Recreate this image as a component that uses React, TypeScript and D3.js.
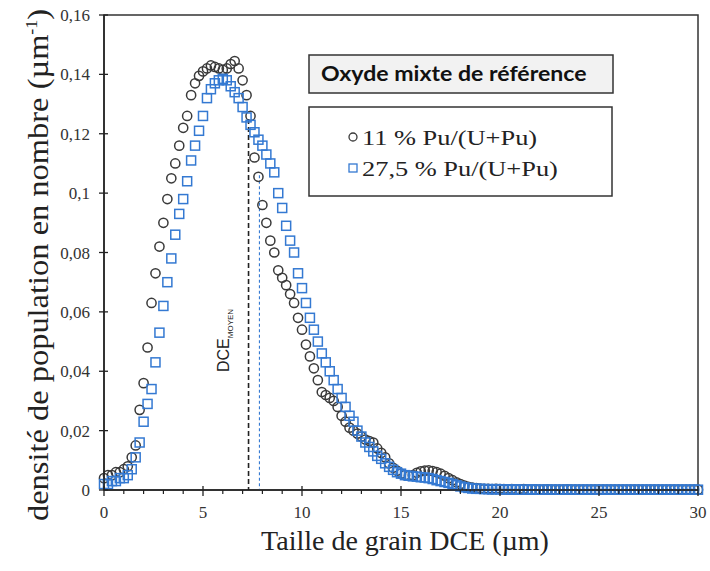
import React from 'react';
import * as d3 from 'd3';

// Grain size (DCE, µm) sampling
const grainSize = [
  0, 0.2, 0.4, 0.6, 0.8, 1, 1.2, 1.4, 1.6, 1.8, 2, 2.2, 2.4, 2.6, 2.8, 3, 3.2, 3.4, 3.6, 3.8,
  4, 4.2, 4.4, 4.6, 4.8, 5, 5.2, 5.4, 5.6, 5.8, 6, 6.2, 6.4, 6.6, 6.8, 7, 7.2, 7.4, 7.6, 7.8,
  8, 8.2, 8.4, 8.6, 8.8, 9, 9.2, 9.4, 9.6, 9.8, 10, 10.2, 10.4, 10.6, 10.8, 11, 11.2, 11.4, 11.6, 11.8,
  12, 12.2, 12.4, 12.6, 12.8, 13, 13.2, 13.4, 13.6, 13.8, 14, 14.2, 14.4, 14.6, 14.8, 15, 15.2, 15.4, 15.6, 15.8,
  16, 16.2, 16.4, 16.6, 16.8, 17, 17.2, 17.4, 17.6, 17.8, 18, 18.2, 18.4, 18.6, 18.8, 19, 19.2, 19.4, 19.6, 19.8,
  20, 20.2, 20.4, 20.6, 20.8, 21, 21.2, 21.4, 21.6, 21.8, 22, 22.2, 22.4, 22.6, 22.8, 23, 23.2, 23.4, 23.6, 23.8,
  24, 24.2, 24.4, 24.6, 24.8, 25, 25.2, 25.4, 25.6, 25.8, 26, 26.2, 26.4, 26.6, 26.8, 27, 27.2, 27.4, 27.6, 27.8,
  28, 28.2, 28.4, 28.6, 28.8, 29, 29.2, 29.4, 29.6, 29.8, 30,
];

// 11 % Pu/(U+Pu)  (circles)
const pu11 = [
  0.004, 0.005, 0.005, 0.006, 0.006, 0.007, 0.008, 0.011, 0.015, 0.027, 0.036, 0.048, 0.063, 0.073, 0.082, 0.090, 0.098, 0.105, 0.110, 0.116,
  0.122, 0.126, 0.133, 0.137, 0.1395, 0.141, 0.142, 0.143, 0.1425, 0.142, 0.1415, 0.142, 0.1435, 0.1445, 0.142, 0.138, 0.133, 0.126, 0.112, 0.1055,
  0.096, 0.090, 0.084, 0.080, 0.074, 0.0715, 0.069, 0.066, 0.063, 0.058, 0.054, 0.049, 0.045, 0.041, 0.037, 0.033, 0.032, 0.031, 0.030, 0.028,
  0.025, 0.023, 0.021, 0.020, 0.019, 0.018, 0.017, 0.0165, 0.016, 0.014, 0.0125, 0.011, 0.009, 0.0075, 0.0065, 0.0055, 0.005, 0.0048, 0.005, 0.0058,
  0.0063, 0.0065, 0.0066, 0.0064, 0.006, 0.0055, 0.0048, 0.004, 0.0033, 0.0026, 0.002, 0.0015, 0.0011, 0.0008, 0.0006, 0.0005, 0.0004, 0.0004, 0.0003, 0.0004,
  0.0003, 0.0003, 0.0002, 0.0003, 0.0002, 0.0002, 0.0003, 0.0002, 0.0001, 0.0002, 0.0001, 0.0001, 0.0002, 0.0001, 0.0001, 0.0001, 0.0001, 0.0002, 0.0001, 0.0001,
  0.0001, 0.0001, 0.0001, 0.0001, 0.0001, 0.0001, 0.0001, 0.0001, 0.0001, 0.0001, 0.0001, 0.0001, 0.0001, 0.0001, 0.0001, 0.0001, 0.0001, 0.0001, 0.0001, 0.0001,
  0.0001, 0.0001, 0.0001, 0.0001, 0.0001, 0.0001, 0.0001, 0.0001, 0.0001, 0.0001, 0.0001,
];

// 27,5 % Pu/(U+Pu)  (squares)
const pu275 = [
  0.002, 0.002, 0.003, 0.003, 0.004, 0.004, 0.005, 0.007, 0.011, 0.016, 0.023, 0.029, 0.034, 0.043, 0.053, 0.062, 0.070, 0.078, 0.086, 0.093,
  0.098, 0.104, 0.111, 0.116, 0.121, 0.126, 0.132, 0.135, 0.137, 0.138, 0.1385, 0.138, 0.136, 0.134, 0.132, 0.129, 0.1255, 0.123, 0.1205, 0.118,
  0.116, 0.113, 0.110, 0.107, 0.100, 0.095, 0.089, 0.084, 0.080, 0.073, 0.068, 0.063, 0.058, 0.054, 0.050, 0.046, 0.043, 0.040, 0.037, 0.034,
  0.031, 0.028, 0.025, 0.023, 0.020, 0.018, 0.016, 0.0145, 0.013, 0.0115, 0.0105, 0.009, 0.0078, 0.0068, 0.006, 0.0055, 0.005, 0.0048, 0.0046, 0.0045,
  0.0043, 0.0042, 0.004, 0.0037, 0.0033, 0.003, 0.0027, 0.0024, 0.002, 0.0016, 0.0012, 0.0009, 0.0007, 0.0005, 0.0004, 0.0004, 0.0003, 0.0003, 0.0002, 0.0003,
  0.0002, 0.0002, 0.0002, 0.0001, 0.0002, 0.0001, 0.0001, 0.0001, 0.0002, 0.0001, 0.0001, 0.0001, 0.0001, 0.0001, 0.0001, 0.0001, 0.0001, 0.0001, 0.0001, 0.0001,
  0.0001, 0.0001, 0.0001, 0.0001, 0.0001, 0.0001, 0.0001, 0.0001, 0.0001, 0.0001, 0.0001, 0.0001, 0.0001, 0.0001, 0.0001, 0.0001, 0.0001, 0.0001, 0.0001, 0.0001,
  0.0001, 0.0001, 0.0001, 0.0001, 0.0001, 0.0001, 0.0001, 0.0001, 0.0001, 0.0001, 0.0001,
];

const xTicks = [0, 5, 10, 15, 20, 25, 30];
const xMinorTicks = [1, 2, 3, 4, 6, 7, 8, 9, 11, 12, 13, 14, 16, 17, 18, 19, 21, 22, 23, 24, 26, 27, 28, 29];
const yTicks = [0, 0.02, 0.04, 0.06, 0.08, 0.1, 0.12, 0.14, 0.16];
const yTickLabels = ['0', '0,02', '0,04', '0,06', '0,08', '0,1', '0,12', '0,14', '0,16'];

const seriesNames = ['11 % Pu/(U+Pu)', '27,5 % Pu/(U+Pu)'];
const legendTitle = 'Oxyde mixte de référence';
const dceMean = [7.3, 7.85];
const dceTop = [0.125, 0.106];

const COL_CIRCLE = '#3a3a3a';
const COL_SQUARE = '#3479d2';

export default function App() {
  const W = 710;
  const H = 571;
  const x = d3.scaleLinear().domain([0, 30]).range([104, 698]);
  const y = d3.scaleLinear().domain([0, 0.16]).range([490, 15]);
  const serif = "'Liberation Serif', 'Times New Roman', serif";
  const sans = "'Liberation Sans', Arial, sans-serif";
  const sq = 9;

  return (
    <svg width={W} height={H} style={{ position: 'absolute', left: 0, top: 0, background: '#fff' }}>
      <rect x={0} y={0} width={W} height={H} fill="#fff" />
      {/* frame */}
      <rect x={x(0)} y={y(0.16)} width={x(30) - x(0)} height={y(0) - y(0.16)} fill="none" stroke="#333" strokeWidth={1.5} />

      {/* dashed mean lines */}
      <line x1={x(dceMean[0])} x2={x(dceMean[0])} y1={y(dceTop[0])} y2={y(0)} stroke="#222" strokeWidth={1.6} strokeDasharray="5,3" />
      <line x1={x(dceMean[1])} x2={x(dceMean[1])} y1={y(dceTop[1])} y2={y(0)} stroke={COL_SQUARE} strokeWidth={1.1} strokeDasharray="3,2.5" />

      {/* circles */}
      <g fill="none" stroke={COL_CIRCLE} strokeWidth={1.5}>
        {pu11.map((v, i) => (
          <circle key={i} cx={x(grainSize[i])} cy={y(v)} r={4.6} />
        ))}
      </g>
      {/* squares */}
      <g fill="none" stroke={COL_SQUARE} strokeWidth={1.5}>
        {pu275.map((v, i) => (
          <rect key={i} x={x(grainSize[i]) - sq / 2} y={y(v) - sq / 2} width={sq} height={sq} />
        ))}
      </g>

      {/* axes */}
      <line x1={x(0)} x2={x(30)} y1={y(0)} y2={y(0)} stroke="#222" strokeWidth={1.5} />
      <line x1={x(0)} x2={x(0)} y1={y(0)} y2={y(0.16)} stroke="#222" strokeWidth={1.5} />
      {xTicks.map((t) => (
        <line key={'xt' + t} x1={x(t)} x2={x(t)} y1={y(0) - 4} y2={y(0) + 6} stroke="#222" strokeWidth={1.3} />
      ))}
      {xMinorTicks.map((t) => (
        <line key={'xm' + t} x1={x(t)} x2={x(t)} y1={y(0)} y2={y(0) + 4} stroke="#222" strokeWidth={1.2} />
      ))}
      {yTicks.map((t) => (
        <line key={'yt' + t} x1={x(0) - 5} x2={x(0) + 4} y1={y(t)} y2={y(t)} stroke="#222" strokeWidth={1.3} />
      ))}
      {xTicks.map((t) => (
        <text key={'xl' + t} x={x(t)} y={518} textAnchor="middle" fontFamily={serif} fontSize={17} fill="#333">
          {t}
        </text>
      ))}
      {yTicks.map((t, i) => (
        <text key={'yl' + t} x={90} y={y(t) + 6} textAnchor="end" fontFamily={serif} fontSize={17} fill="#333">
          {yTickLabels[i]}
        </text>
      ))}

      {/* axis titles */}
      <text x={405} y={550} textAnchor="middle" fontFamily={serif} fontSize={28} fill="#222">
        Taille de grain DCE  (µm)
      </text>
      <text transform="translate(48,265) rotate(-90) scale(1.12,1)" textAnchor="middle" fontFamily={serif} fontSize={29} fill="#222">
        densité de population en nombre  (µm
        <tspan dy={-11} fontSize={16}>-1</tspan>
        <tspan dy={11}>)</tspan>
      </text>

      {/* DCE moyen label */}
      <text transform={`translate(${x(6.3)},372) rotate(-90)`} fontFamily={sans} fontSize={16} fill="#222">
        DCE
        <tspan dy={4} fontSize={8}>MOYEN</tspan>
      </text>

      {/* legend title */}
      <rect x={309} y={55} width={304} height={38} fill="#f2f2f2" stroke="#333" strokeWidth={1.5} />
      <text transform="translate(321,81) scale(1.1,1)" fontFamily="Lato, 'Liberation Sans', sans-serif" fontWeight={700} fontSize={21} fill="#111">
        {legendTitle}
      </text>

      {/* legend */}
      <rect x={309} y={107} width={303} height={89} fill="#fff" stroke="#333" strokeWidth={1.5} />
      <circle cx={353} cy={137} r={4} fill="none" stroke={COL_CIRCLE} strokeWidth={1.3} />
      <text transform="translate(362,145) scale(1.2,1)" fontFamily={serif} fontSize={22} fill="#222">{seriesNames[0]}</text>
      <rect x={349} y={164} width={8} height={8} fill="none" stroke={COL_SQUARE} strokeWidth={1.3} />
      <text transform="translate(362,176) scale(1.2,1)" fontFamily={serif} fontSize={22} fill="#222">{seriesNames[1]}</text>
    </svg>
  );
}
